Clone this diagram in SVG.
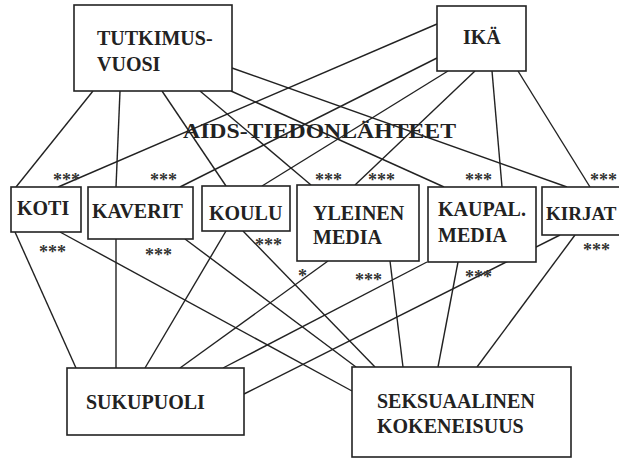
<svg xmlns="http://www.w3.org/2000/svg" width="619" height="458" viewBox="0 0 619 458">
<style>
.bg{fill:#fff}
.box{fill:#fff;stroke:#222;stroke-width:1.6}
.t{font-family:"Liberation Serif","Times New Roman",serif;font-weight:bold;font-size:20px;fill:#222}
.title{font-family:"Liberation Serif","Times New Roman",serif;font-weight:bold;font-size:22px;fill:#222}
.s{font-family:"Liberation Serif","Times New Roman",serif;font-weight:bold;font-size:18px;fill:#333}
#connectors line{stroke:#222;stroke-width:1.4}
</style>
<rect class="bg" x="0" y="0" width="619" height="458"/>
<g id="connectors">
<line x1="93" y1="91" x2="16" y2="187"/>
<line x1="120" y1="91" x2="116" y2="187"/>
<line x1="162" y1="91" x2="226" y2="186"/>
<line x1="200" y1="91" x2="311" y2="185"/>
<line x1="231" y1="91" x2="444" y2="187"/>
<line x1="232" y1="68" x2="567" y2="187"/>
<line x1="437" y1="24" x2="58" y2="187"/>
<line x1="437" y1="58" x2="180" y2="187"/>
<line x1="448" y1="71" x2="262" y2="186"/>
<line x1="475" y1="71" x2="355" y2="185"/>
<line x1="492" y1="71" x2="502" y2="187"/>
<line x1="518" y1="71" x2="590" y2="187"/>
<line x1="15" y1="232" x2="76" y2="368"/>
<line x1="116" y1="239" x2="116" y2="368"/>
<line x1="226" y1="231" x2="145" y2="368"/>
<line x1="328" y1="261" x2="180" y2="368"/>
<line x1="427" y1="262" x2="223" y2="368"/>
<line x1="560" y1="235" x2="244" y2="394"/>
<line x1="60" y1="232" x2="352" y2="391"/>
<line x1="185" y1="239" x2="356" y2="367"/>
<line x1="243" y1="231" x2="375" y2="367"/>
<line x1="390" y1="261" x2="403" y2="367"/>
<line x1="458" y1="262" x2="438" y2="367"/>
<line x1="575" y1="235" x2="477" y2="367"/>
</g>
<text class="title" x="183" y="138" textLength="273" lengthAdjust="spacingAndGlyphs">AIDS-TIEDONLÄHTEET</text>
<g id="tutkimusvuosi"><rect class="box" x="74" y="5" width="158" height="86"/><text class="t" x="97" y="45">TUTKIMUS-</text><text class="t" x="97" y="71">VUOSI</text></g>
<g id="ika"><rect class="box" x="437" y="6" width="89" height="65"/><text class="t" x="463" y="44">IKÄ</text></g>
<g id="koti"><rect class="box" x="11" y="187" width="70" height="45"/><text class="t" x="17" y="215">KOTI</text></g>
<g id="kaverit"><rect class="box" x="88" y="187" width="105" height="52"/><text class="t" x="92" y="218">KAVERIT</text></g>
<g id="koulu"><rect class="box" x="202" y="186" width="88" height="45"/><text class="t" x="209" y="220">KOULU</text></g>
<g id="yleinen"><rect class="box" x="297" y="185" width="122" height="76"/><text class="t" x="313" y="220">YLEINEN</text><text class="t" x="313" y="244">MEDIA</text></g>
<g id="kaupal"><rect class="box" x="428" y="187" width="108" height="75"/><text class="t" x="438" y="216">KAUPAL.</text><text class="t" x="438" y="242">MEDIA</text></g>
<g id="kirjat"><rect class="box" x="542" y="187" width="100" height="48"/><text class="t" x="546" y="220" style="font-size:19px">KIRJAT</text></g>
<g id="sukupuoli"><rect class="box" x="67" y="368" width="177" height="67"/><text class="t" x="86" y="409">SUKUPUOLI</text></g>
<g id="seksuaalinen"><rect class="box" x="352" y="367" width="219" height="90"/><text class="t" x="377" y="408">SEKSUAALINEN</text><text class="t" x="377" y="433">KOKENEISUUS</text></g>
<g id="stars">
<text class="s" x="53" y="186">***</text>
<text class="s" x="150" y="186">***</text>
<text class="s" x="315" y="186">***</text>
<text class="s" x="368" y="186">***</text>
<text class="s" x="465" y="186">***</text>
<text class="s" x="590" y="186">***</text>
<text class="s" x="39" y="258">***</text>
<text class="s" x="145" y="261">***</text>
<text class="s" x="255" y="251">***</text>
<text class="s" x="298" y="282">*</text>
<text class="s" x="355" y="286">***</text>
<text class="s" x="465" y="283">***</text>
<text class="s" x="583" y="256">***</text>
</g>
</svg>
